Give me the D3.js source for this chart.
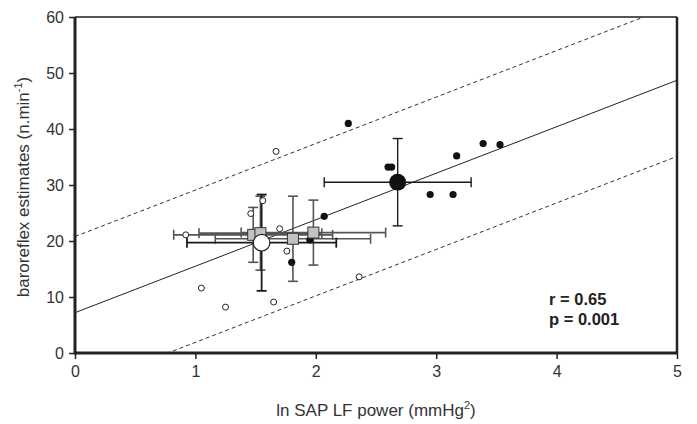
<!DOCTYPE html>
<html>
<head>
<meta charset="utf-8">
<script src="https://cdn.jsdelivr.net/npm/d3@7"></script>
<style>
  html, body { margin: 0; padding: 0; background: #fff; }
  svg { display: block; font-family: Arial, "Liberation Sans", sans-serif; }
</style>
</head>
<body>
<svg id="chart" width="697" height="424"></svg>
<script>
// ---- data ----
const xTicks = [0, 1, 2, 3, 4, 5];
const yTicks = [0, 10, 20, 30, 40, 50, 60];

// closed small dots
const closedX = [2.27, 2.60, 2.63, 3.17, 3.39, 3.53, 2.95, 3.14, 2.07, 1.80, 1.95];
const closedY = [41.0, 33.2, 33.2, 35.2, 37.4, 37.2, 28.3, 28.3, 24.4, 16.2, 20.2];

// open small circles
const openX = [0.92, 1.05, 1.25, 1.46, 1.56, 1.67, 1.70, 1.76, 1.65, 2.36];
const openY = [21.1, 11.6, 8.2, 24.9, 27.2, 36.0, 22.2, 18.2, 9.1, 13.6];

// group means (gray squares) with error bars
const sqX = [1.48, 1.54, 1.81, 1.98];
const sqY = [21.1, 21.4, 20.4, 21.5];
const sqXErr = [0.66, 0.51, 0.645, 0.60];
const sqYErr = [4.9, 6.6, 7.6, 5.8];

// big open circle mean
const bigOpenX = [1.55];
const bigOpenY = [19.7];
const bigOpenXErr = [0.62];
const bigOpenYErr = [8.6];

// big filled circle mean
const bigClosedX = [2.68];
const bigClosedY = [30.5];
const bigClosedXErr = [0.61];
const bigClosedYErr = [7.8];

// regression line and prediction band
const regIntercept = 7.2;
const regSlope = 8.3;
const bandOffset = [13.6, -13.6];

const statLines = ["r = 0.65", "p = 0.001"];
const xTitle = "ln SAP LF power (mmHg";
const yTitle = "baroreflex estimates (n.min";

// ---- layout ----
const svg = d3.select("#chart");
const x = d3.scaleLinear().domain([0, 5]).range([75, 677]);
const y = d3.scaleLinear().domain([0, 60]).range([353, 17]);

svg.append("defs").append("clipPath").attr("id", "plotclip")
  .append("rect").attr("x", x(0)).attr("y", y(60))
  .attr("width", x(5) - x(0)).attr("height", y(0) - y(60));

const plot = svg.append("g").attr("clip-path", "url(#plotclip)");

// regression lines
const lineGen = d3.line().x(d => x(d[0])).y(d => y(d[1]));
plot.append("path")
  .attr("d", lineGen([[0, regIntercept], [5, regIntercept + regSlope * 5]]))
  .attr("fill", "none").attr("stroke", "#222").attr("stroke-width", 1);
bandOffset.forEach(o => {
  plot.append("path")
    .attr("d", lineGen([[0, regIntercept + o], [5, regIntercept + o + regSlope * 5]]))
    .attr("fill", "none").attr("stroke", "#333").attr("stroke-width", 1)
    .attr("stroke-dasharray", "4,3");
});

// error bars helper
function errBars(g, xs, ys, xe, ye, color, width, cap) {
  xs.forEach((cx, i) => {
    const cy = ys[i];
    // horizontal
    g.append("line").attr("x1", x(cx - xe[i])).attr("x2", x(cx + xe[i]))
      .attr("y1", y(cy)).attr("y2", y(cy)).attr("stroke", color).attr("stroke-width", width);
    [cx - xe[i], cx + xe[i]].forEach(v => {
      g.append("line").attr("x1", x(v)).attr("x2", x(v))
        .attr("y1", y(cy) - cap).attr("y2", y(cy) + cap)
        .attr("stroke", color).attr("stroke-width", width);
    });
    // vertical
    g.append("line").attr("x1", x(cx)).attr("x2", x(cx))
      .attr("y1", y(cy - ye[i])).attr("y2", y(cy + ye[i]))
      .attr("stroke", color).attr("stroke-width", width);
    [cy - ye[i], cy + ye[i]].forEach(v => {
      g.append("line").attr("x1", x(cx) - cap).attr("x2", x(cx) + cap)
        .attr("y1", y(v)).attr("y2", y(v))
        .attr("stroke", color).attr("stroke-width", width);
    });
  });
}

const eb = svg.append("g");
errBars(eb, sqX, sqY, sqXErr, sqYErr, "#555", 1.6, 5);
errBars(eb, bigOpenX, bigOpenY, bigOpenXErr, bigOpenYErr, "#1a1a1a", 1.8, 5);
errBars(eb, bigClosedX, bigClosedY, bigClosedXErr, bigClosedYErr, "#1a1a1a", 1.4, 5);

// small points
svg.append("g").selectAll("circle").data(openX).join("circle")
  .attr("cx", d => x(d)).attr("cy", (d, i) => y(openY[i])).attr("r", 3)
  .attr("fill", "#fff").attr("stroke", "#222").attr("stroke-width", 1);
svg.append("g").selectAll("circle").data(closedX).join("circle")
  .attr("cx", d => x(d)).attr("cy", (d, i) => y(closedY[i])).attr("r", 3.6)
  .attr("fill", "#111");

// squares
const sq = 11;
svg.append("g").selectAll("rect").data(sqX).join("rect")
  .attr("x", d => x(d) - sq / 2).attr("y", (d, i) => y(sqY[i]) - sq / 2)
  .attr("width", sq).attr("height", sq)
  .attr("fill", "#c2c2c2").attr("stroke", "#333").attr("stroke-width", 1);

// big markers
svg.append("g").selectAll("circle").data(bigOpenX).join("circle")
  .attr("cx", d => x(d)).attr("cy", (d, i) => y(bigOpenY[i])).attr("r", 8.3)
  .attr("fill", "#fff").attr("stroke", "#222").attr("stroke-width", 1.2);
svg.append("g").selectAll("circle").data(bigClosedX).join("circle")
  .attr("cx", d => x(d)).attr("cy", (d, i) => y(bigClosedY[i])).attr("r", 8.5)
  .attr("fill", "#111");

// frame
svg.append("line").attr("x1", x(0)).attr("x2", x(5)).attr("y1", y(60)).attr("y2", y(60))
  .attr("stroke", "#555").attr("stroke-width", 2);
svg.append("line").attr("x1", x(5)).attr("x2", x(5)).attr("y1", y(60)).attr("y2", y(0))
  .attr("stroke", "#222").attr("stroke-width", 2.5);

// axes
const yAxis = svg.append("g").attr("transform", `translate(${x(0)},0)`)
  .call(d3.axisLeft(y).tickValues(yTicks).tickSize(6).tickPadding(5).tickFormat(d3.format("d")));
const xAxis = svg.append("g").attr("transform", `translate(0,${y(0)})`)
  .call(d3.axisBottom(x).tickValues(xTicks).tickSize(6).tickPadding(7).tickFormat(d3.format("d")));
[xAxis, yAxis].forEach(a => {
  a.select(".domain").attr("stroke", "#222").attr("stroke-width", 3);
  a.selectAll(".tick line").attr("stroke", "#222").attr("stroke-width", 1.5);
  a.selectAll(".tick text").attr("fill", "#333").attr("font-size", 16)
    .attr("font-family", "Arial, 'Liberation Sans', sans-serif");
});
yAxis.select(".domain").attr("d", `M0,${y(0) + 1.5}V${y(60)}`);
xAxis.select(".domain").attr("d", `M${x(0)},0H${x(5)}`);

// axis titles
const xt = svg.append("text").attr("x", 376).attr("y", 416).attr("text-anchor", "middle")
  .attr("font-size", 17).attr("fill", "#333");
xt.append("tspan").text(xTitle);
xt.append("tspan").text("2").attr("font-size", 11).attr("dy", -7);
xt.append("tspan").text(")").attr("dy", 7);

const yt = svg.append("text").attr("transform", "translate(29,187) rotate(-90)")
  .attr("text-anchor", "middle").attr("font-size", 17).attr("fill", "#333");
yt.append("tspan").text(yTitle);
yt.append("tspan").text("-1").attr("font-size", 11).attr("dy", -7);
yt.append("tspan").text(")").attr("dy", 7);

// stats text
svg.append("g").selectAll("text").data(statLines).join("text")
  .attr("x", 549).attr("y", (d, i) => 305 + i * 20)
  .attr("font-size", 16.5).attr("font-weight", "bold").attr("fill", "#222")
  .text(d => d);
</script>
</body>
</html>
